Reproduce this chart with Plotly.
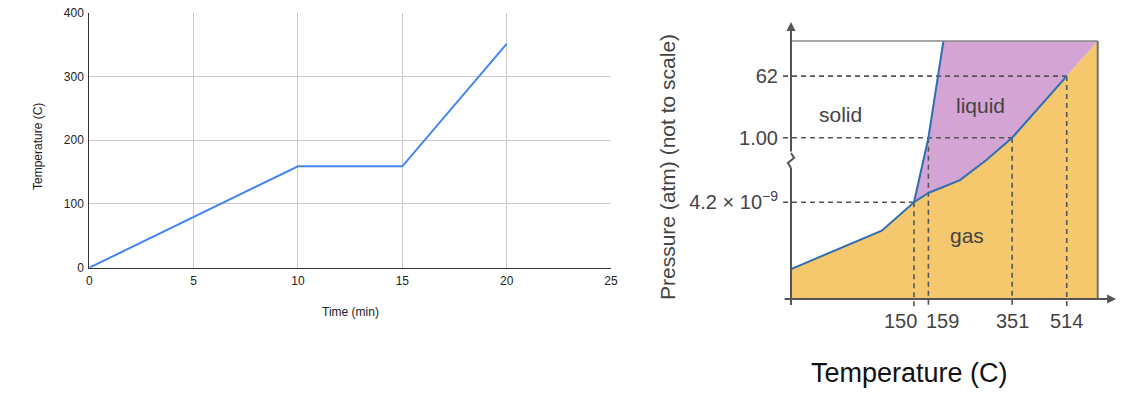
import plotly.graph_objects as go

# ---------------- Left chart data ----------------
time_min = [0, 10, 15, 20]
temp_c = [0, 159, 159, 351]
left_xticks = [0, 5, 10, 15, 20, 25]
left_yticks = [0, 100, 200, 300, 400]

# ---------------- Phase diagram (schematic, not to scale, units 0-100) ----------------
temp_labels = ["150", "159", "351", "514"]
temp_pos = [40.1, 44.8, 72.1, 89.9]
pres_labels = ["4.2 × 10<sup>−9</sup>", "1.00", "62"]
pres_pos = [37.5, 62.5, 86.4]

subl_x = [0, 29.6, 40.1]
subl_y = [11.6, 26.5, 37.5]
vap_x = [40.1, 44.8, 55.1, 63.7, 72.1, 89.9]
vap_y = [37.5, 41.1, 46.1, 53.9, 62.5, 86.4]
melt_x = [40.1, 44.8, 49.7]
melt_y = [37.5, 62.5, 100]

region_names = ["solid", "liquid", "gas"]
region_x = [16.0, 61.8, 57.4]
region_y = [71.4, 75.0, 24.5]

T_MAX, P_MAX = 100, 100

FONT = "Liberation Sans, Arial, sans-serif"
W, H = 1122, 410

ORANGE = "#F6C86E"
PURPLE = "#D3A4D4"
BLUE = "#2F6FB3"
DASH = "#555555"
AXIS = "#555555"

fig = go.Figure()

# Left chart line
fig.add_trace(go.Scatter(x=time_min, y=temp_c, mode="lines",
                         line=dict(color="#4285F4", width=2),
                         xaxis="x", yaxis="y", showlegend=False, hoverinfo="skip"))

# Phase diagram fills
gas_x = [0] + subl_x + vap_x[1:] + [T_MAX, T_MAX, 0]
gas_y = [0] + subl_y + vap_y[1:] + [P_MAX, 0, 0]
fig.add_trace(go.Scatter(x=gas_x, y=gas_y, mode="lines", fill="toself",
                         fillcolor=ORANGE, line=dict(width=0),
                         xaxis="x2", yaxis="y2", showlegend=False, hoverinfo="skip"))
liq_x = melt_x + [T_MAX] + vap_x[::-1]
liq_y = melt_y + [P_MAX] + vap_y[::-1]
fig.add_trace(go.Scatter(x=liq_x, y=liq_y, mode="lines", fill="toself",
                         fillcolor=PURPLE, line=dict(width=0),
                         xaxis="x2", yaxis="y2", showlegend=False, hoverinfo="skip"))

# Dashed guide lines
X_START = -2.6
Y_START = -3.1
h_end = [temp_pos[0], temp_pos[2], temp_pos[3]]
v_top = [pres_pos[0], pres_pos[1], pres_pos[1], pres_pos[2]]
dx, dy = [], []
for p, xe in zip(pres_pos, h_end):
    dx += [X_START, xe, None]
    dy += [p, p, None]
for t, yt in zip(temp_pos, v_top):
    dx += [t, t, None]
    dy += [yt, Y_START, None]
fig.add_trace(go.Scatter(x=dx, y=dy, mode="lines",
                         line=dict(color=DASH, width=1.6, dash="5px,4px"),
                         xaxis="x2", yaxis="y2", showlegend=False, hoverinfo="skip"))

# Phase boundaries
fig.add_trace(go.Scatter(x=subl_x + vap_x[1:], y=subl_y + vap_y[1:], mode="lines",
                         line=dict(color=BLUE, width=2),
                         xaxis="x2", yaxis="y2", showlegend=False, hoverinfo="skip"))
fig.add_trace(go.Scatter(x=melt_x, y=melt_y, mode="lines",
                         line=dict(color=BLUE, width=2),
                         xaxis="x2", yaxis="y2", showlegend=False, hoverinfo="skip"))

# Axis break zigzag
zig_x = [0, 1.0, -1.0, 0]
zig_y = [56.6, 54.7, 52.7, 50.8]
fig.add_trace(go.Scatter(x=zig_x, y=zig_y, mode="lines",
                         line=dict(color=AXIS, width=2),
                         xaxis="x2", yaxis="y2", showlegend=False, hoverinfo="skip"))

shapes = [
    dict(type="line", xref="x2", yref="y2", x0=0, y0=P_MAX, x1=T_MAX, y1=P_MAX,
         line=dict(color="#8a8a8a", width=1.5)),
    dict(type="line", xref="x2", yref="y2", x0=T_MAX, y0=P_MAX, x1=T_MAX, y1=0,
         line=dict(color="#6f6f6f", width=2)),
    dict(type="line", xref="x2", yref="y2", x0=0, y0=-2.3, x1=0, y1=zig_y[-1],
         line=dict(color=AXIS, width=2)),
]

C = dict(xanchor="center", yanchor="middle", showarrow=False)
annotations = [
    # y axis arrow (upper part)
    dict(x=0, y=107.4, ax=0, ay=zig_y[0], xref="x2", yref="y2", axref="x2", ayref="y2",
         text="", showarrow=True, arrowhead=2, arrowsize=0.9, arrowwidth=2, arrowcolor=AXIS),
    # x axis arrow
    dict(x=106.0, y=0, ax=X_START, ay=0, xref="x2", yref="y2", axref="x2", ayref="y2",
         text="", showarrow=True, arrowhead=2, arrowsize=0.9, arrowwidth=2, arrowcolor=AXIS),
    # titles
    dict(x=350.7 / W, y=1 - 311.7 / H, xref="paper", yref="paper", text="Time (min)",
         font=dict(family=FONT, size=12, color="#222"), **C),
    dict(x=38 / W, y=1 - 147 / H, xref="paper", yref="paper", text="Temperature (C)",
         textangle=-90, font=dict(family=FONT, size=12, color="#222"), **C),
    dict(x=668 / W, y=1 - 167 / H, xref="paper", yref="paper",
         text="Pressure (atm) (not to scale)", textangle=-90,
         font=dict(family=FONT, size=21, color="#444"), **C),
    dict(x=909 / W, y=1 - 373 / H, xref="paper", yref="paper", text="Temperature (C)",
         font=dict(family=FONT, size=27, color="#111"), **C),
]
for name, rx, ry in zip(region_names, region_x, region_y):
    annotations.append(dict(x=rx, y=ry, xref="x2", yref="y2", text=name,
                            font=dict(family=FONT, size=21, color="#444"), **C))
# temperature tick labels (150 and 159 are nudged apart as in the original)
label_shift = [-13.5, 14, 0, 0]
for lab, tx, sh in zip(temp_labels, temp_pos, label_shift):
    annotations.append(dict(x=tx, y=1 - 321 / H, xref="x2", yref="paper", text=lab,
                            xshift=sh, font=dict(family=FONT, size=20, color="#444"), **C))

# pixel mapping for the schematic subplot
PX0, PXU = 791, 3.067
PY0, PYU = 299, 2.58
L, R, T, B = 779, 1120, 15, 309

fig.update_layout(
    width=W, height=H,
    margin=dict(l=0, r=0, t=0, b=0, autoexpand=False),
    paper_bgcolor="white", plot_bgcolor="rgba(0,0,0,0)",
    font=dict(family=FONT),
    shapes=shapes, annotations=annotations,
    xaxis=dict(domain=[89.3 / W, 611 / W], range=[0, 25], tickvals=left_xticks,
               showgrid=True, gridcolor="#cccccc", gridwidth=1, zeroline=False,
               showline=True, linecolor="#333", linewidth=1, ticks="", automargin=False,
               tickangle=0, ticklabelstandoff=2,
               tickfont=dict(family=FONT, size=12, color="#222"), anchor="y",
               fixedrange=True),
    yaxis=dict(domain=[1 - 267.7 / H, 1 - 12.7 / H], range=[0, 400], tickvals=left_yticks,
               showgrid=True, gridcolor="#cccccc", gridwidth=1, zeroline=False,
               showline=True, linecolor="#333", linewidth=1, ticks="", automargin=False,
               ticklabelstandoff=2,
               tickfont=dict(family=FONT, size=12, color="#222"), anchor="x",
               fixedrange=True),
    xaxis2=dict(domain=[L / W, R / W], range=[(L - PX0) / PXU, (R - PX0) / PXU],
                showticklabels=False, showgrid=False, zeroline=False,
                showline=False, ticks="", automargin=False,
                anchor="y2", fixedrange=True),
    yaxis2=dict(domain=[1 - B / H, 1 - T / H], range=[(PY0 - B) / PYU, (PY0 - T) / PYU],
                tickvals=pres_pos, ticktext=pres_labels, showgrid=False, zeroline=False,
                showline=False, ticks="", automargin=False,
                tickfont=dict(family=FONT, size=20, color="#444"),
                anchor="x2", fixedrange=True),
)

fig.write_html("out.html", config={"displayModeBar": False},
               post_script="document.body.style.margin='0px';")
